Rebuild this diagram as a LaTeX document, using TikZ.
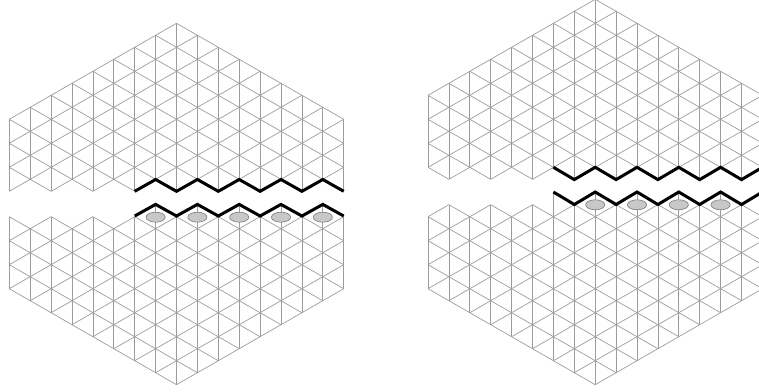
\documentclass[tikz,border=0pt]{standalone}
\usepackage{xcolor}
\definecolor{meshgray}{HTML}{9C9C9C}
\definecolor{pocketfill}{HTML}{C8C8C8}
\definecolor{pocketline}{HTML}{7A7A7A}
\tikzset{mesh/.style={draw=meshgray,line width=.7pt},ridge/.style={draw=black,line width=3pt,line join=miter},pocket/.style={draw=pocketline,fill=pocketfill,line width=.6pt}}
\newcommand{\colstep}{20.9}
\newcommand{\hexpiece}[4]{%
\foreach \k in {0,...,16}{
\def\col{\k}
\pgfmathtruncatemacro{\first}{abs(\k-8)}
\pgfmathtruncatemacro{\last}{#4}
\draw[mesh] ({#1+\colstep*\k},{#2+#3*\first})--({#1+\colstep*\k},{#2+#3*\last});
\ifnum\k<16
\pgfmathtruncatemacro{\nextk}{\k+1}
\def\col{\nextk}
\pgfmathtruncatemacro{\nextfirst}{abs(\nextk-8)}
\pgfmathtruncatemacro{\nextlast}{#4}
\pgfmathtruncatemacro{\second}{\first+2}
\foreach \n in {\first,\second,...,\last}{
\pgfmathtruncatemacro{\rowup}{\n-1}
\pgfmathtruncatemacro{\rowdown}{\n+1}
\ifnum\rowup<\nextfirst\else\draw[mesh] ({#1+\colstep*\k},{#2+#3*\n})--({#1+\colstep*\nextk},{#2+#3*\rowup});\fi
\ifnum\rowdown>\nextlast\else\draw[mesh] ({#1+\colstep*\k},{#2+#3*\n})--({#1+\colstep*\nextk},{#2+#3*\rowdown});\fi
}
\fi
}}
\newcommand{\ridgeline}[3]{\draw[ridge] ({#1+\colstep*6},#2) foreach \k in {7,...,16}{--({#1+\colstep*\k},{isodd(\k)?#3:#2})};}
\begin{document}
\begin{tikzpicture}[x=1pt,y=-1pt]
\useasboundingbox (0,0) rectangle (759,391);
\clip (0,0) rectangle (759,391);
\hexpiece{9.3}{23.3}{12}{isodd(\col)?13:14}
\hexpiece{9.3}{384.7}{-12}{isodd(\col)?(\col<6?13:15):14}
\ridgeline{9.3}{191.3}{179.5}
\ridgeline{9.3}{216}{204.4}
\foreach \k in {7,9,...,15}{\draw[pocket] ({9.3+\colstep*\k},217.2) ellipse (9.6 and 5);}
\hexpiece{428}{-.7}{12}{isodd(\col)?15:14}
\hexpiece{428}{384.7}{-12}{isodd(\col)?15:14}
\foreach \k in {6,8,...,16}{\draw[mesh] ({428+\colstep*\k},192.7)--({428+\colstep*\k},216.7);}
\ridgeline{428}{167.3}{179.6}
\ridgeline{428}{192}{204.5}
\foreach \k in {8,10,...,14}{\draw[pocket] ({428+\colstep*\k},204.8) ellipse (9.6 and 5);}
\end{tikzpicture}
\end{document}
